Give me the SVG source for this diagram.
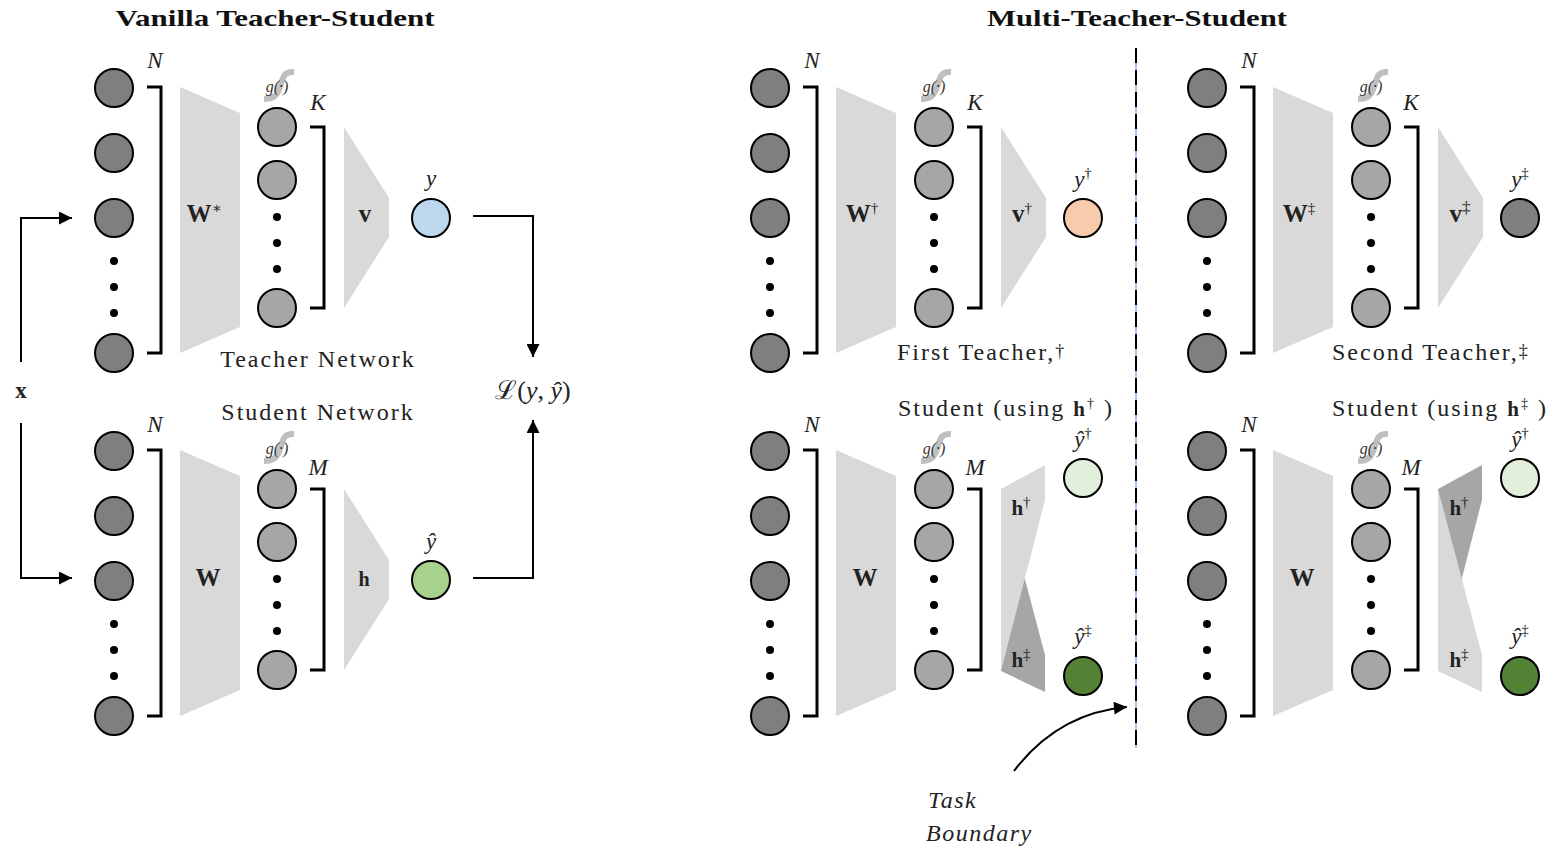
<svg xmlns="http://www.w3.org/2000/svg" xmlns:xlink="http://www.w3.org/1999/xlink" width="1559" height="849" viewBox="0 0 1559 849">
<style>
.in{fill:#7f7f7f;stroke:#000;stroke-width:2}
.hid{fill:#a6a6a6;stroke:#000;stroke-width:2}
.dot{fill:#000}
.br{fill:none;stroke:#000;stroke-width:3}
.trap{fill:#d9d9d9}
.dark{fill:#a6a6a6}
.out{stroke:#000;stroke-width:2}
.conn{fill:none;stroke:#000;stroke-width:2}
.lbl{font-family:"Liberation Serif","DejaVu Serif",serif;font-size:24px;letter-spacing:2px;fill:#222}
.ttl{font-family:"Liberation Serif","DejaVu Serif",serif;font-size:23px;font-weight:bold;fill:#111}
.m{font-family:"Liberation Serif","DejaVu Serif",serif;font-style:italic;font-size:23px;fill:#222}
.bm{font-family:"Liberation Serif","DejaVu Serif",serif;font-weight:bold;font-size:25px;fill:#222}
.sup{font-size:15px;font-style:normal;font-weight:normal}
.g{font-family:"Liberation Serif","DejaVu Serif",serif;font-style:italic;font-size:16px;fill:#333}
</style>
<defs>
<marker id="ah" viewBox="0 0 10 10" refX="10" refY="5" markerWidth="16" markerHeight="13" markerUnits="userSpaceOnUse" orient="auto"><path d="M0 0 L10 5 L0 10 z" fill="#000"/></marker>
<g id="inCol">
<circle class="in" cx="0" cy="0" r="19"/><circle class="in" cx="0" cy="65" r="19"/><circle class="in" cx="0" cy="130" r="19"/>
<circle class="dot" cx="0" cy="173" r="4"/><circle class="dot" cx="0" cy="199" r="4"/><circle class="dot" cx="0" cy="225" r="4"/>
<circle class="in" cx="0" cy="265" r="19"/>
<path class="br" d="M33 -1 H47 V265 H33"/>
</g>
<polygon id="trapW" class="trap" points="66,-1 126,25 126,239 66,265"/>
<g id="hidCol">
<circle class="hid" cx="0" cy="0" r="19"/><circle class="hid" cx="0" cy="53" r="19"/>
<circle class="dot" cx="0" cy="90" r="4"/><circle class="dot" cx="0" cy="116" r="4"/><circle class="dot" cx="0" cy="142" r="4"/>
<circle class="hid" cx="0" cy="181" r="19"/>
<path class="br" d="M33 0 H47 V181 H33"/>
<path d="M17 -55 C5 -56 6 -47 3 -40 C0 -31 -4 -28 -13 -28" fill="none" stroke="#bfbfbf" stroke-width="6"/>
<text class="g" x="0" y="-35" text-anchor="middle">g(·)</text>
</g>
<polygon id="trapV" class="trap" points="67,0 112,71 112,110 67,181"/>
</defs>

<text class="ttl" x="275" y="26" text-anchor="middle" textLength="319" lengthAdjust="spacingAndGlyphs">Vanilla Teacher-Student</text>
<text class="ttl" x="1137" y="26" text-anchor="middle" textLength="300" lengthAdjust="spacingAndGlyphs">Multi-Teacher-Student</text>

<!-- Vanilla teacher -->
<g id="vt-input"><use xlink:href="#inCol" x="114" y="88"/><text class="m" x="155" y="68" text-anchor="middle">N</text></g>
<g id="vt-W"><use xlink:href="#trapW" x="114" y="88"/><text class="bm" x="204" y="222" text-anchor="middle">W<tspan class="sup" dy="-9">∗</tspan></text></g>
<g id="vt-hidden"><use xlink:href="#hidCol" x="277" y="127"/><text class="m" x="318" y="110" text-anchor="middle">K</text></g>
<g id="vt-v"><use xlink:href="#trapV" x="277" y="127"/><text class="bm" x="365" y="222" text-anchor="middle">v</text></g>
<g id="vt-out"><circle class="out" cx="431" cy="218" r="19" fill="#bdd7ee"/><text class="m" x="431" y="186" text-anchor="middle">y</text></g>
<text class="lbl" x="318" y="367" text-anchor="middle">Teacher Network</text>

<!-- Vanilla student -->
<g id="vs-input"><use xlink:href="#inCol" x="114" y="451"/><text class="m" x="155" y="432" text-anchor="middle">N</text></g>
<g id="vs-W"><use xlink:href="#trapW" x="114" y="451"/><text class="bm" x="208" y="586" text-anchor="middle">W</text></g>
<g id="vs-hidden"><use xlink:href="#hidCol" x="277" y="489"/><text class="m" x="318" y="475" text-anchor="middle">M</text></g>
<g id="vs-h"><use xlink:href="#trapV" x="277" y="489"/><text class="bm" x="364" y="586" text-anchor="middle" style="font-size:20px">h</text></g>
<g id="vs-out"><circle class="out" cx="431" cy="580" r="19" fill="#a9d18e"/><text class="m" x="431" y="549" text-anchor="middle">ŷ</text></g>
<text class="lbl" x="318" y="420" text-anchor="middle">Student Network</text>

<g id="x-input"><text class="bm" x="21" y="398" text-anchor="middle" style="font-size:23px">x</text></g>
<g id="loss"><text class="m" x="533" y="399" text-anchor="middle" style="font-size:26px;font-style:normal">ℒ(<tspan font-style="italic">y</tspan>, <tspan font-style="italic">ŷ</tspan>)</text></g>

<!-- First teacher -->
<g id="t1-input"><use xlink:href="#inCol" x="770" y="88"/><text class="m" x="812" y="68" text-anchor="middle">N</text></g>
<g id="t1-W"><use xlink:href="#trapW" x="770" y="88"/><text class="bm" x="862" y="222" text-anchor="middle">W<tspan class="sup" dy="-9">†</tspan></text></g>
<g id="t1-hidden"><use xlink:href="#hidCol" x="934" y="127"/><text class="m" x="975" y="110" text-anchor="middle">K</text></g>
<g id="t1-v"><use xlink:href="#trapV" x="934" y="127"/><text class="bm" x="1022" y="222" text-anchor="middle">v<tspan class="sup" dy="-9">†</tspan></text></g>
<g id="t1-out"><circle class="out" cx="1083" cy="218" r="19" fill="#f8cbad"/><text class="m" x="1083" y="187" text-anchor="middle">y<tspan class="sup" dy="-9">†</tspan></text></g>
<text class="lbl" x="897" y="360">First Teacher,<tspan dy="-3" style="font-size:18px">†</tspan></text>

<!-- Second teacher -->
<g id="t2-input"><use xlink:href="#inCol" x="1207" y="88"/><text class="m" x="1249" y="68" text-anchor="middle">N</text></g>
<g id="t2-W"><use xlink:href="#trapW" x="1207" y="88"/><text class="bm" x="1299" y="222" text-anchor="middle">W<tspan class="sup" dy="-9">‡</tspan></text></g>
<g id="t2-hidden"><use xlink:href="#hidCol" x="1371" y="127"/><text class="m" x="1411" y="110" text-anchor="middle">K</text></g>
<g id="t2-v"><use xlink:href="#trapV" x="1371" y="127"/><text class="bm" x="1460" y="222" text-anchor="middle">v<tspan class="sup" dy="-9" style="font-size:17px">‡</tspan></text></g>
<g id="t2-out"><circle class="out" cx="1520" cy="218" r="19" fill="#7f7f7f"/><text class="m" x="1520" y="187" text-anchor="middle">y<tspan class="sup" dy="-9">‡</tspan></text></g>
<text class="lbl" x="1332" y="360">Second Teacher,<tspan dy="-3" style="font-size:18px">‡</tspan></text>

<!-- First student -->
<g id="s1-input"><use xlink:href="#inCol" x="770" y="451"/><text class="m" x="812" y="432" text-anchor="middle">N</text></g>
<g id="s1-W"><use xlink:href="#trapW" x="770" y="451"/><text class="bm" x="865" y="586" text-anchor="middle">W</text></g>
<g id="s1-hidden"><use xlink:href="#hidCol" x="934" y="489"/><text class="m" x="975" y="475" text-anchor="middle">M</text></g>
<g id="s1-heads">
<polygon class="dark" points="1001,489 1045,655 1045,692 1001,671"/>
<polygon class="trap" points="1001,489 1045,465 1045,500 1001,671"/>
<text class="bm" x="1021" y="515" text-anchor="middle" style="font-size:21px">h<tspan class="sup" dy="-8">†</tspan></text>
<text class="bm" x="1021" y="667" text-anchor="middle" style="font-size:21px">h<tspan class="sup" dy="-8">‡</tspan></text>
</g>
<g id="s1-out1"><circle class="out" cx="1083" cy="478" r="19" fill="#e2efda"/><text class="m" x="1083" y="447" text-anchor="middle">ŷ<tspan class="sup" dy="-9">†</tspan></text></g>
<g id="s1-out2"><circle class="out" cx="1083" cy="676" r="19" fill="#548235"/><text class="m" x="1083" y="644" text-anchor="middle">ŷ<tspan class="sup" dy="-9">‡</tspan></text></g>
<text class="lbl" x="898" y="416">Student (using <tspan font-weight="bold" style="font-size:21px">h</tspan><tspan dy="-8" style="font-size:14px">†</tspan><tspan dy="8"> )</tspan></text>

<!-- Second student -->
<g id="s2-input"><use xlink:href="#inCol" x="1207" y="451"/><text class="m" x="1249" y="432" text-anchor="middle">N</text></g>
<g id="s2-W"><use xlink:href="#trapW" x="1207" y="451"/><text class="bm" x="1302" y="586" text-anchor="middle">W</text></g>
<g id="s2-hidden"><use xlink:href="#hidCol" x="1371" y="489"/><text class="m" x="1411" y="475" text-anchor="middle">M</text></g>
<g id="s2-heads">
<polygon class="dark" points="1438,489 1482,465 1482,500 1438,671"/>
<polygon class="trap" points="1438,489 1482,655 1482,692 1438,671"/>
<text class="bm" x="1459" y="515" text-anchor="middle" style="font-size:21px">h<tspan class="sup" dy="-8">†</tspan></text>
<text class="bm" x="1459" y="667" text-anchor="middle" style="font-size:21px">h<tspan class="sup" dy="-8">‡</tspan></text>
</g>
<g id="s2-out1"><circle class="out" cx="1520" cy="478" r="19" fill="#e2efda"/><text class="m" x="1520" y="447" text-anchor="middle">ŷ<tspan class="sup" dy="-9">†</tspan></text></g>
<g id="s2-out2"><circle class="out" cx="1520" cy="676" r="19" fill="#548235"/><text class="m" x="1520" y="644" text-anchor="middle">ŷ<tspan class="sup" dy="-9">‡</tspan></text></g>
<text class="lbl" x="1332" y="416">Student (using <tspan font-weight="bold" style="font-size:21px">h</tspan><tspan dy="-8" style="font-size:14px">‡</tspan><tspan dy="8"> )</tspan></text>

<g id="task-boundary-label">
<text class="m" x="928" y="808" style="font-size:24px;letter-spacing:1.5px">Task</text>
<text class="m" x="926" y="841" style="font-size:24px;letter-spacing:1.5px">Boundary</text>
</g>

<g id="connectors">
<path class="conn" d="M21 362 V218 H72" marker-end="url(#ah)"/>
<path class="conn" d="M21 423 V578 H72" marker-end="url(#ah)"/>
<path class="conn" d="M473 216 H533 V357" marker-end="url(#ah)"/>
<path class="conn" d="M473 578 H533 V420" marker-end="url(#ah)"/>
<line x1="1136" y1="48" x2="1136" y2="748" stroke="#4a86e8" stroke-width="1"/>
<line x1="1136" y1="48" x2="1136" y2="748" stroke="#000" stroke-width="2" stroke-dasharray="15 7"/>
<path class="conn" d="M1014 771 Q1058 713 1127 707" marker-end="url(#ah)"/>
</g>
</svg>
